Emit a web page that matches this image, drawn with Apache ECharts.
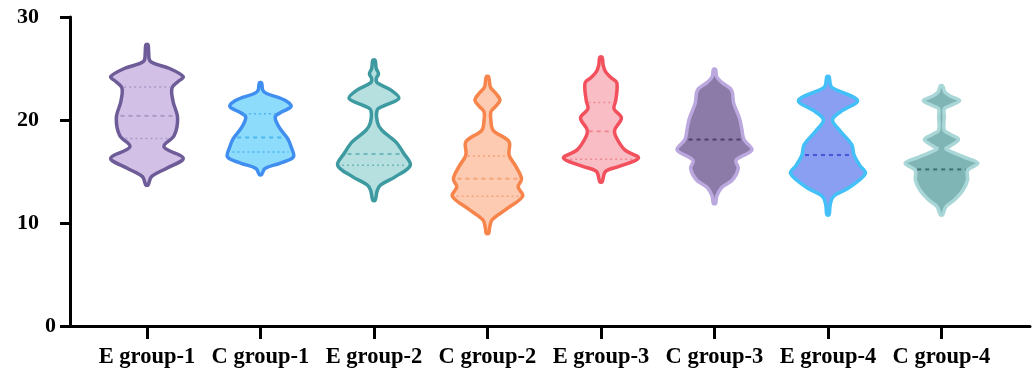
<!DOCTYPE html>
<html>
<head>
<meta charset="utf-8">
<script src="https://cdn.jsdelivr.net/npm/echarts@6/dist/echarts.min.js"></script>
<style>html,body{margin:0;padding:0;background:#fff}#chart{width:1033px;height:374px}</style>
</head>
<body>
<div id="chart"></div>
<script>
const categories = ['E group-1','C group-1','E group-2','C group-2','E group-3','C group-3','E group-4','C group-4'];
const yTicks = [0, 10, 20, 30];

// violin outlines: values (top to bottom) and half-widths (in category units)
const violinY = [
  [27.3, 26.6, 25.7, 25.0, 24.2, 23.7, 23.1, 21.8, 20.2, 18.5, 17.4, 16.3, 15.3, 14.5, 13.7],
  [23.6, 22.9, 22.6, 21.9, 21.3, 20.8, 20.3, 19.2, 18.2, 17.4, 16.4, 15.8, 15.3, 14.7],
  [25.8, 25.0, 24.5, 24.0, 23.6, 22.9, 22.1, 21.4, 21.0, 19.8, 19.0, 17.9, 16.8, 15.6, 14.5, 13.7, 13.2, 12.2],
  [24.2, 23.5, 23.1, 22.5, 21.9, 21.3, 20.8, 20.0, 19.0, 17.9, 16.6, 15.5, 14.3, 13.5, 12.6, 11.3, 10.3, 9.6, 9.0],
  [26.1, 25.3, 24.7, 24.1, 23.6, 21.9, 21.1, 20.2, 19.0, 18.2, 17.1, 16.3, 15.5, 15.0, 14.0],
  [24.9, 24.2, 23.6, 22.9, 21.6, 20.2, 19.2, 18.1, 17.1, 16.1, 15.3, 14.2, 13.4, 12.6, 11.9],
  [24.2, 23.5, 23.1, 21.9, 20.8, 20.0, 18.9, 17.6, 16.6, 15.6, 14.8, 13.4, 12.6, 11.8, 10.8],
  [23.3, 22.7, 22.3, 21.9, 21.4, 21.1, 20.3, 19.0, 18.6, 18.1, 17.5, 17.2, 16.4, 15.8, 15.1, 14.2, 13.2, 12.2, 11.6, 10.8]
];
const violinW = [
  [0.01, 0.015, 0.03, 0.2, 0.32, 0.27, 0.22, 0.23, 0.27, 0.24, 0.15, 0.32, 0.17, 0.04, 0.01],
  [0.01, 0.02, 0.05, 0.22, 0.27, 0.19, 0.13, 0.17, 0.24, 0.27, 0.29, 0.17, 0.04, 0.01],
  [0.01, 0.02, 0.04, 0.02, 0.03, 0.15, 0.22, 0.09, 0.03, 0.03, 0.07, 0.19, 0.26, 0.32, 0.19, 0.06, 0.03, 0.01],
  [0.01, 0.02, 0.03, 0.08, 0.11, 0.07, 0.03, 0.03, 0.05, 0.19, 0.19, 0.25, 0.3, 0.27, 0.31, 0.16, 0.04, 0.02, 0.01],
  [0.01, 0.02, 0.04, 0.09, 0.14, 0.13, 0.115, 0.18, 0.12, 0.14, 0.21, 0.33, 0.16, 0.04, 0.01],
  [0.01, 0.02, 0.07, 0.15, 0.17, 0.22, 0.24, 0.26, 0.33, 0.19, 0.21, 0.16, 0.06, 0.02, 0.01],
  [0.01, 0.02, 0.04, 0.26, 0.11, 0.04, 0.11, 0.21, 0.23, 0.28, 0.33, 0.18, 0.05, 0.02, 0.01],
  [0.01, 0.03, 0.08, 0.16, 0.08, 0.025, 0.025, 0.025, 0.08, 0.15, 0.08, 0.04, 0.2, 0.32, 0.23, 0.23, 0.19, 0.11, 0.04, 0.01]
];
const q3Values = [23.2, 20.6, null, 16.5, 21.7, null, null, null];
const medianValues = [20.4, 18.3, 16.7, 14.3, 18.9, 18.1, 16.6, 15.2];
const q1Values = [18.2, 16.9, 15.6, 12.6, 16.2, null, null, null];

const fillColors = ['#d2c0e7', '#8edcfb', '#b6e0e0', '#fccbb1', '#f9bdc5', '#8c7ba8', '#8a9ef2', '#80b5b5'];
const strokeColors = ['#6e5c98', '#3f8ef0', '#3d9aa0', '#f7844a', '#f2505c', '#baa8de', '#42c0f7', '#a9d6d6'];
const lineColors = ['#a99bc8', '#4fb4ef', '#6fb7bb', '#f5a37c', '#f08a92', '#4e3f6e', '#4655d8', '#3d6c6e'];

function halfWidthAt(i, v) {
  const ys = violinY[i], ws = violinW[i];
  for (let k = 0; k < ys.length - 1; k++) {
    if (v <= ys[k] && v >= ys[k + 1]) {
      const t = (ys[k] - v) / (ys[k] - ys[k + 1]);
      return ws[k] + t * (ws[k + 1] - ws[k]);
    }
  }
  return 0;
}

const chart = echarts.init(document.getElementById('chart'));
const serif = '"Liberation Serif", "Times New Roman", serif';

function renderItem(params, api) {
  const i = params.dataIndex;
  const ys = violinY[i], ws = violinW[i];
  const pts = [];
  for (let k = 0; k < ys.length; k++) pts.push(api.coord([i - ws[k], ys[k]]));
  for (let k = ys.length - 1; k >= 0; k--) pts.push(api.coord([i + ws[k], ys[k]]));
  const children = [{
    type: 'polygon',
    shape: { points: pts, smooth: 0.35 },
    style: { fill: fillColors[i], stroke: strokeColors[i], lineWidth: 3.5 }
  }];
  const addLine = (v, dash, w) => {
    if (v === null || v === undefined) return;
    const hw = halfWidthAt(i, v) * 0.88;
    const a = api.coord([i - hw, v]), b = api.coord([i + hw, v]);
    children.push({
      type: 'line',
      shape: { x1: a[0], y1: a[1], x2: b[0], y2: b[1] },
      style: { stroke: lineColors[i], lineWidth: w, lineDash: dash }
    });
  };
  addLine(q3Values[i], [2, 3], 1.5);
  addLine(medianValues[i], [4, 4], 2);
  addLine(q1Values[i], [2, 3], 1.5);
  return { type: 'group', children };
}

chart.setOption({
  animation: false,
  backgroundColor: '#fff',
  grid: { left: 70, right: 3, top: 17, bottom: 48 },
  xAxis: {
    type: 'value',
    min: -0.678,
    max: 7.78,
    splitLine: { show: false },
    axisLine: { show: true, lineStyle: { color: '#000', width: 3 } },
    axisTick: { show: true, customValues: categories.map((c, k) => k), length: 13, lineStyle: { color: '#000', width: 3 } },
    axisLabel: {
      customValues: categories.map((c, k) => k),
      formatter: v => categories[Math.round(v)],
      margin: 20,
      color: '#000',
      fontFamily: serif,
      fontWeight: 'bold',
      fontSize: 22.5
    }
  },
  yAxis: {
    type: 'value',
    min: 0,
    max: 30,
    interval: 10,
    splitLine: { show: false },
    axisLine: { show: true, onZero: false, lineStyle: { color: '#000', width: 3 } },
    axisTick: { show: true, length: 10, lineStyle: { color: '#000', width: 3 } },
    axisLabel: {
      margin: 14,
      color: '#000',
      fontFamily: serif,
      fontWeight: 'bold',
      fontSize: 22,
      formatter: v => (v === 0 ? '{z|0}' : '{n|' + v + '}'),
      rich: {
        z: { fontFamily: serif, fontWeight: 'bold', fontSize: 22, color: '#000' },
        n: { fontFamily: serif, fontWeight: 'bold', fontSize: 22, color: '#000', padding: [0, 17, 0, 0] }
      }
    }
  },
  series: [{
    type: 'custom',
    renderItem: renderItem,
    data: categories.map((c, k) => [k, medianValues[k]]),
    encode: { x: 0, y: 1 },
    clip: false
  }]
});
</script>
</body>
</html>
